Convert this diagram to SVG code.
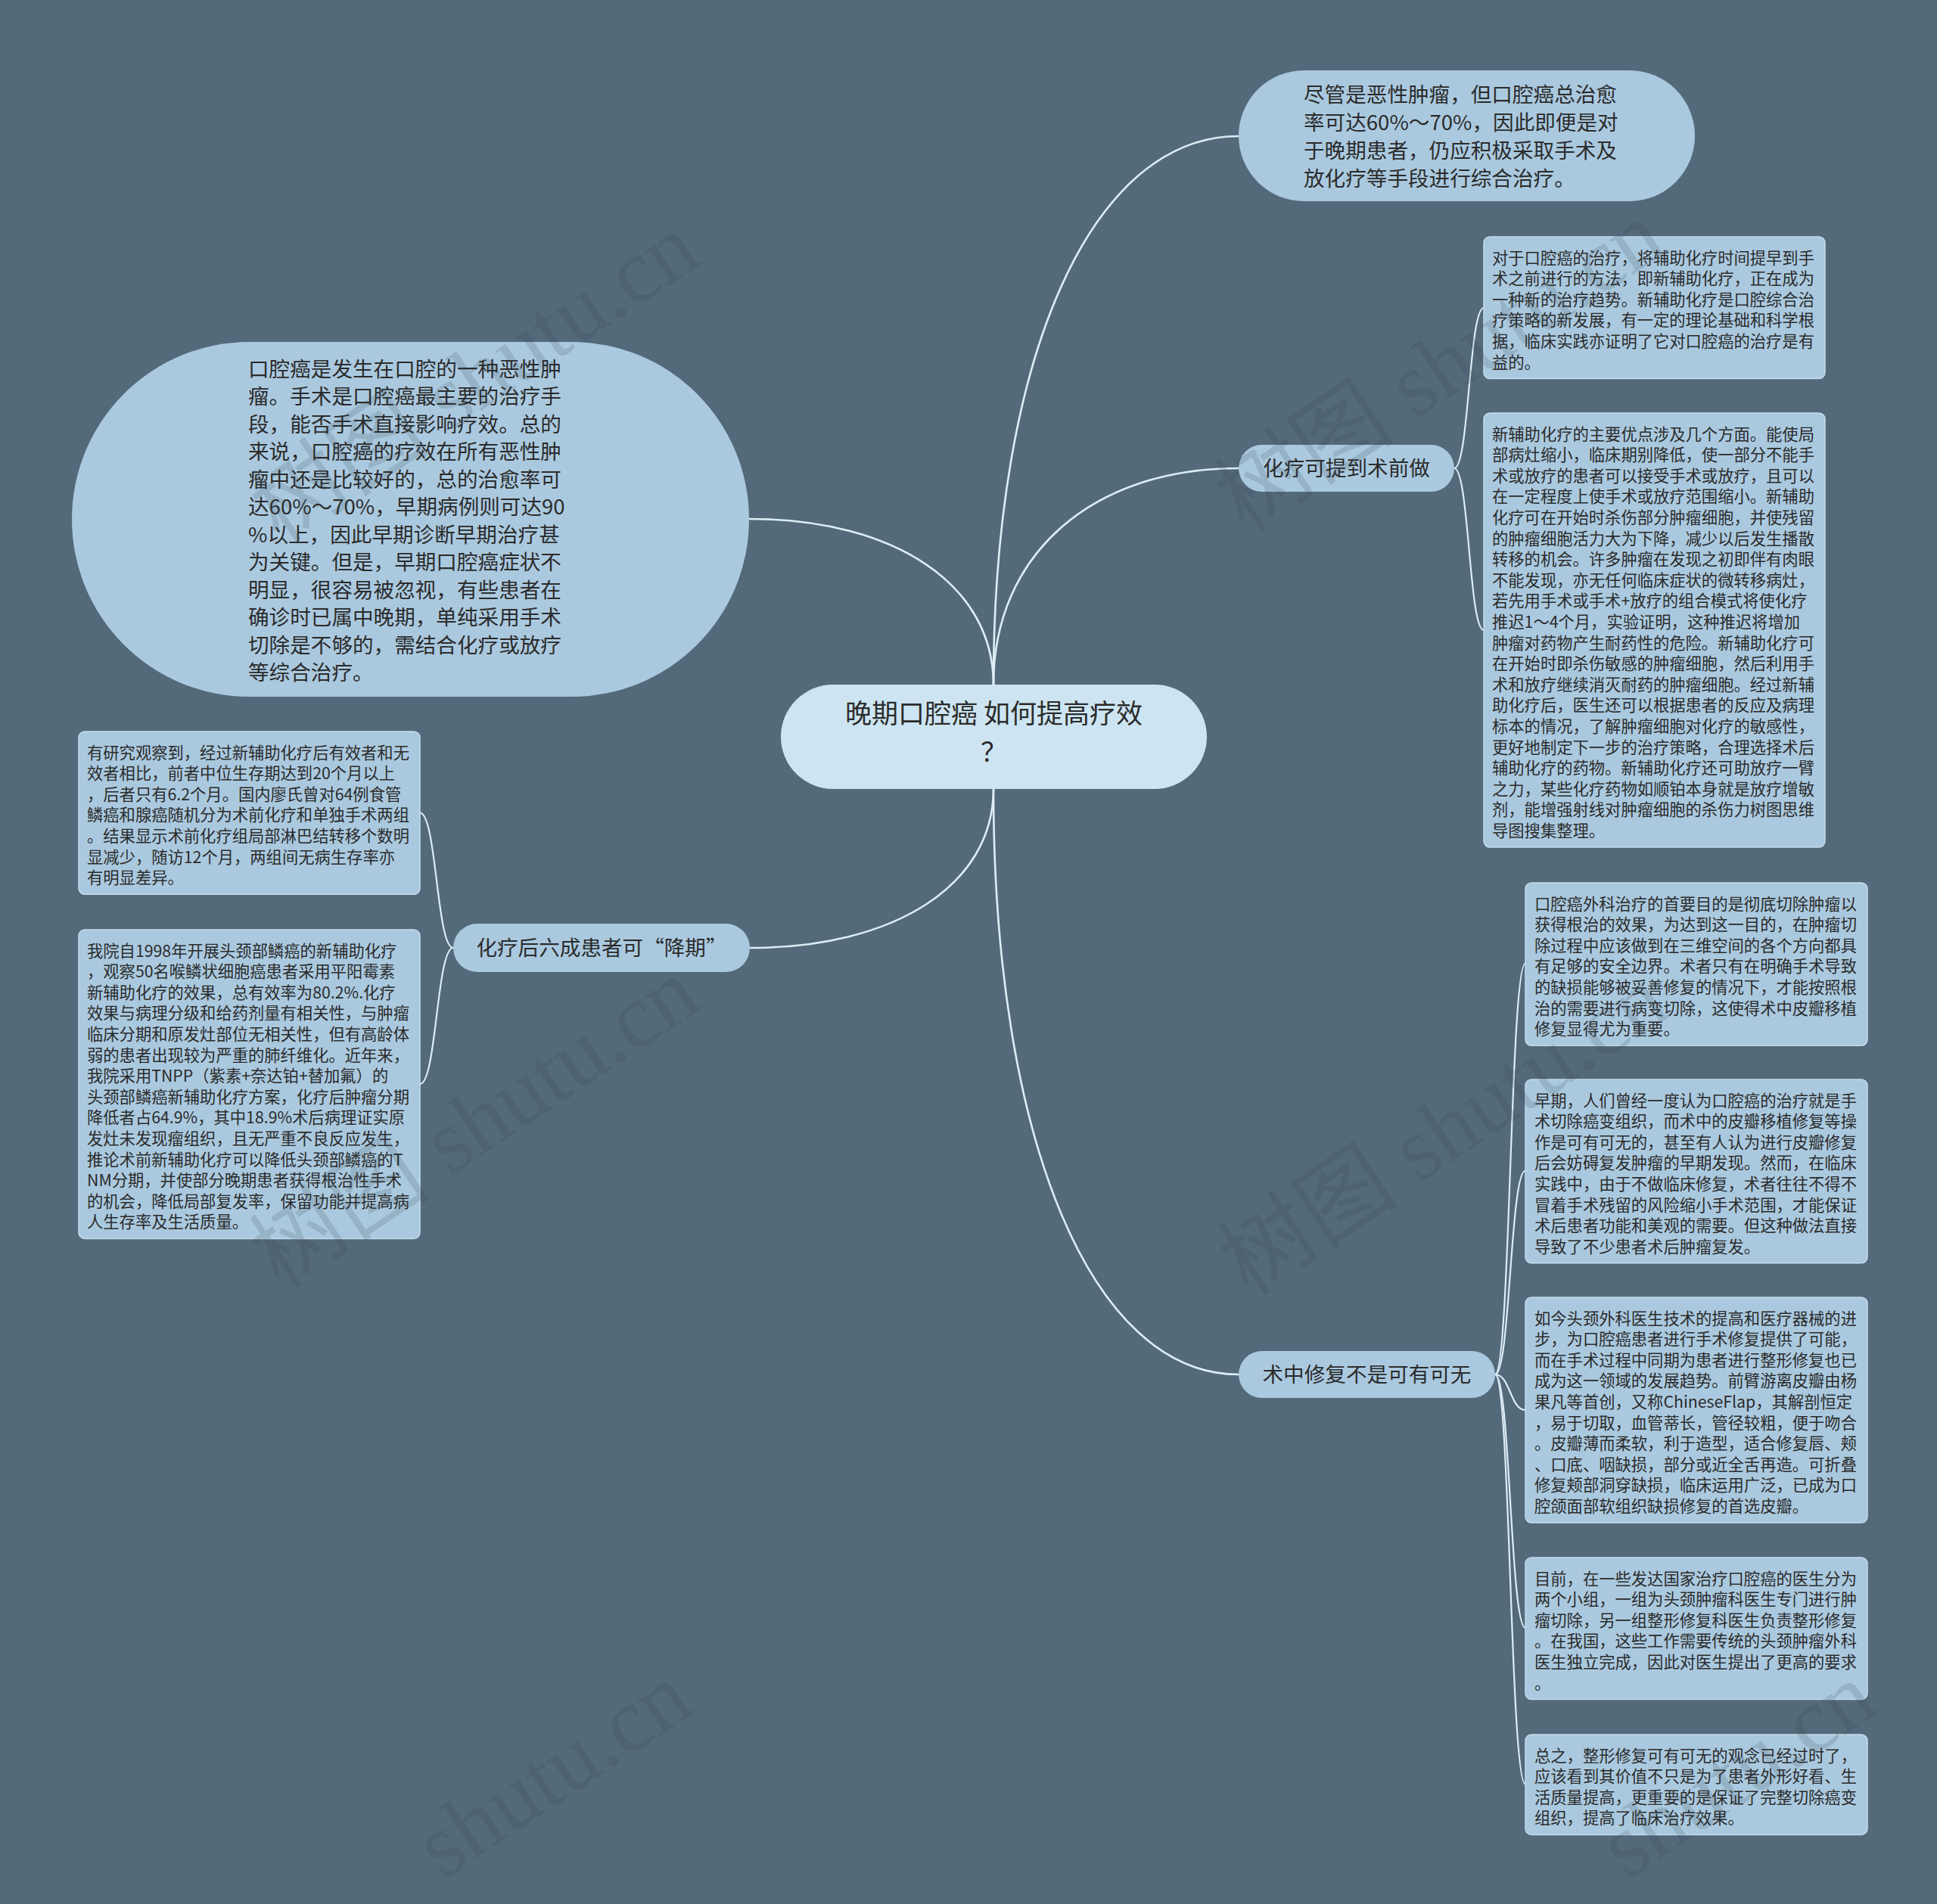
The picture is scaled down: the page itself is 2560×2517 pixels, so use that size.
<svg xmlns="http://www.w3.org/2000/svg" width="2560" height="2517" viewBox="0 0 2560 2517">
<style>
.conn{fill:none;stroke:#dcedf6;stroke-width:2.6;stroke-linecap:round}
.sub{stroke-width:2.2}
.root{fill:#cde5f2}
.main{fill:#aac9df}
.box{fill:#aac9df;stroke:#c4dbea;stroke-width:1.5}
text{fill:#2b2b2b;font-family:"Noto Sans CJK SC","Noto Sans",sans-serif}
.t36{font-size:35px}
.t28{font-size:27.6px}
.t21{font-size:21.3px}
.wm{font-family:"Liberation Serif","Noto Sans CJK SC",serif;font-size:120px;fill:#2f3f4a;opacity:0.16}
</style>
<rect x="0" y="0" width="2560" height="2517" fill="#536a7b"/>
<g id="connectors">
<path class="conn" d="M1313,905 C1313,470 1443,180 1637,180"/>
<path class="conn" d="M1313,905 C1313,733 1443,619 1637,619"/>
<path class="conn" d="M1313,905 C1313,774 1184,686 990,686"/>
<path class="conn" d="M1313,1043 C1313,1169 1184,1253 991,1253"/>
<path class="conn" d="M1313,1043 C1313,1507 1443,1817 1637,1817"/>
<path class="conn sub" d="M1922,619 C1941.5,619 1941.5,407 1961,407"/>
<path class="conn sub" d="M1922,619 C1941.5,619 1941.5,833 1961,833"/>
<path class="conn sub" d="M599,1253 C577,1253 577,1074.5 555,1074.5"/>
<path class="conn sub" d="M599,1253 C577,1253 577,1433 555,1433"/>
<path class="conn sub" d="M1976,1817 C1996,1817 1996,1273.5 2016,1273.5"/>
<path class="conn sub" d="M1976,1817 C1996,1817 1996,1547.5 2016,1547.5"/>
<path class="conn sub" d="M1976,1817 C1996,1817 1996,1864 2016,1864"/>
<path class="conn sub" d="M1976,1817 C1996,1817 1996,2152 2016,2152"/>
<path class="conn sub" d="M1976,1817 C1996,1817 1996,2358.5 2016,2358.5"/>
</g>
<g id="root">
<rect class="root" x="1032" y="905" width="563" height="138" rx="69"/>
<text class="t36" text-anchor="middle"><tspan x="1313.5" y="956">晚期口腔癌 如何提高疗效</tspan><tspan x="1313.5" y="1007">？</tspan></text>
</g>
<g id="n-top">
<rect class="main" x="1637" y="93" width="603" height="173" rx="86.5"/>
<text class="t28"><tspan x="1723" y="134.5">尽管是恶性肿瘤，但口腔癌总治愈</tspan><tspan x="1723" y="171.5">率可达60%～70%，因此即便是对</tspan><tspan x="1723" y="208.5">于晚期患者，仍应积极采取手术及</tspan><tspan x="1723" y="245.5">放化疗等手段进行综合治疗。</tspan></text>
</g>
<g id="n-left">
<rect class="main" x="95" y="452" width="895" height="469" rx="234.5"/>
<text class="t28"><tspan x="328" y="497.5">口腔癌是发生在口腔的一种恶性肿</tspan><tspan x="328" y="534">瘤。手术是口腔癌最主要的治疗手</tspan><tspan x="328" y="570.5">段，能否手术直接影响疗效。总的</tspan><tspan x="328" y="607">来说，口腔癌的疗效在所有恶性肿</tspan><tspan x="328" y="643.5">瘤中还是比较好的，总的治愈率可</tspan><tspan x="328" y="680">达60%～70%，早期病例则可达90</tspan><tspan x="328" y="716.5">%以上，因此早期诊断早期治疗甚</tspan><tspan x="328" y="753">为关键。但是，早期口腔癌症状不</tspan><tspan x="328" y="789.5">明显，很容易被忽视，有些患者在</tspan><tspan x="328" y="826">确诊时已属中晚期，单纯采用手术</tspan><tspan x="328" y="862.5">切除是不够的，需结合化疗或放疗</tspan><tspan x="328" y="899">等综合治疗。</tspan></text>
</g>
<g id="b1">
<rect class="main" x="1637" y="588" width="285" height="62" rx="31"/>
<text class="t28" x="1779.5" y="629" text-anchor="middle">化疗可提到术前做</text>
</g>
<g id="b2">
<rect class="main" x="599" y="1221" width="392" height="64" rx="32"/>
<text class="t28" x="795" y="1263" text-anchor="middle">化疗后六成患者可“降期”</text>
</g>
<g id="b3">
<rect class="main" x="1637" y="1786" width="339" height="62" rx="31"/>
<text class="t28" x="1806.5" y="1827" text-anchor="middle">术中修复不是可有可无</text>
</g>
<g id="box1">
<rect class="box" x="1961" y="313" width="451" height="187.6" rx="8"/>
<text class="t21"><tspan x="1972" y="348.5">对于口腔癌的治疗，将辅助化疗时间提早到手</tspan><tspan x="1972" y="376.1">术之前进行的方法，即新辅助化疗，正在成为</tspan><tspan x="1972" y="403.7">一种新的治疗趋势。新辅助化疗是口腔综合治</tspan><tspan x="1972" y="431.3">疗策略的新发展，有一定的理论基础和科学根</tspan><tspan x="1972" y="458.9">据，临床实践亦证明了它对口腔癌的治疗是有</tspan><tspan x="1972" y="486.5">益的。</tspan></text>
</g>
<g id="box2">
<rect class="box" x="1961" y="546" width="451" height="574" rx="8"/>
<text class="t21"><tspan x="1972" y="581.5">新辅助化疗的主要优点涉及几个方面。能使局</tspan><tspan x="1972" y="609.1">部病灶缩小，临床期别降低，使一部分不能手</tspan><tspan x="1972" y="636.7">术或放疗的患者可以接受手术或放疗，且可以</tspan><tspan x="1972" y="664.3">在一定程度上使手术或放疗范围缩小。新辅助</tspan><tspan x="1972" y="691.9">化疗可在开始时杀伤部分肿瘤细胞，并使残留</tspan><tspan x="1972" y="719.5">的肿瘤细胞活力大为下降，减少以后发生播散</tspan><tspan x="1972" y="747.1">转移的机会。许多肿瘤在发现之初即伴有肉眼</tspan><tspan x="1972" y="774.7">不能发现，亦无任何临床症状的微转移病灶，</tspan><tspan x="1972" y="802.3">若先用手术或手术+放疗的组合模式将使化疗</tspan><tspan x="1972" y="829.9">推迟1～4个月，实验证明，这种推迟将增加</tspan><tspan x="1972" y="857.5">肿瘤对药物产生耐药性的危险。新辅助化疗可</tspan><tspan x="1972" y="885.1">在开始时即杀伤敏感的肿瘤细胞，然后利用手</tspan><tspan x="1972" y="912.7">术和放疗继续消灭耐药的肿瘤细胞。经过新辅</tspan><tspan x="1972" y="940.3">助化疗后，医生还可以根据患者的反应及病理</tspan><tspan x="1972" y="967.9">标本的情况，了解肿瘤细胞对化疗的敏感性，</tspan><tspan x="1972" y="995.5">更好地制定下一步的治疗策略，合理选择术后</tspan><tspan x="1972" y="1023.1">辅助化疗的药物。新辅助化疗还可助放疗一臂</tspan><tspan x="1972" y="1050.7">之力，某些化疗药物如顺铂本身就是放疗增敏</tspan><tspan x="1972" y="1078.3">剂，能增强射线对肿瘤细胞的杀伤力树图思维</tspan><tspan x="1972" y="1105.9">导图搜集整理。</tspan></text>
</g>
<g id="box3">
<rect class="box" x="104" y="967" width="451" height="215.2" rx="8"/>
<text class="t21"><tspan x="115" y="1002.5">有研究观察到，经过新辅助化疗后有效者和无</tspan><tspan x="115" y="1030.1">效者相比，前者中位生存期达到20个月以上</tspan><tspan x="115" y="1057.7">，后者只有6.2个月。国内廖氏曾对64例食管</tspan><tspan x="115" y="1085.3">鳞癌和腺癌随机分为术前化疗和单独手术两组</tspan><tspan x="115" y="1112.9">。结果显示术前化疗组局部淋巴结转移个数明</tspan><tspan x="115" y="1140.5">显减少，随访12个月，两组间无病生存率亦</tspan><tspan x="115" y="1168.1">有明显差异。</tspan></text>
</g>
<g id="box4">
<rect class="box" x="104" y="1229" width="451" height="408.4" rx="8"/>
<text class="t21"><tspan x="115" y="1264.5">我院自1998年开展头颈部鳞癌的新辅助化疗</tspan><tspan x="115" y="1292.1">，观察50名喉鳞状细胞癌患者采用平阳霉素</tspan><tspan x="115" y="1319.7">新辅助化疗的效果，总有效率为80.2%.化疗</tspan><tspan x="115" y="1347.3">效果与病理分级和给药剂量有相关性，与肿瘤</tspan><tspan x="115" y="1374.9">临床分期和原发灶部位无相关性，但有高龄体</tspan><tspan x="115" y="1402.5">弱的患者出现较为严重的肺纤维化。近年来，</tspan><tspan x="115" y="1430.1">我院采用TNPP（紫素+奈达铂+替加氟）的</tspan><tspan x="115" y="1457.7">头颈部鳞癌新辅助化疗方案，化疗后肿瘤分期</tspan><tspan x="115" y="1485.3">降低者占64.9%，其中18.9%术后病理证实原</tspan><tspan x="115" y="1512.9">发灶未发现瘤组织，且无严重不良反应发生，</tspan><tspan x="115" y="1540.5">推论术前新辅助化疗可以降低头颈部鳞癌的T</tspan><tspan x="115" y="1568.1">NM分期，并使部分晚期患者获得根治性手术</tspan><tspan x="115" y="1595.7">的机会，降低局部复发率，保留功能并提高病</tspan><tspan x="115" y="1623.3">人生存率及生活质量。</tspan></text>
</g>
<g id="box5">
<rect class="box" x="2016" y="1167" width="452" height="215.2" rx="8"/>
<text class="t21"><tspan x="2028" y="1202.5">口腔癌外科治疗的首要目的是彻底切除肿瘤以</tspan><tspan x="2028" y="1230.1">获得根治的效果，为达到这一目的，在肿瘤切</tspan><tspan x="2028" y="1257.7">除过程中应该做到在三维空间的各个方向都具</tspan><tspan x="2028" y="1285.3">有足够的安全边界。术者只有在明确手术导致</tspan><tspan x="2028" y="1312.9">的缺损能够被妥善修复的情况下，才能按照根</tspan><tspan x="2028" y="1340.5">治的需要进行病变切除，这使得术中皮瓣移植</tspan><tspan x="2028" y="1368.1">修复显得尤为重要。</tspan></text>
</g>
<g id="box6">
<rect class="box" x="2016" y="1427" width="452" height="242.8" rx="8"/>
<text class="t21"><tspan x="2028" y="1462.5">早期，人们曾经一度认为口腔癌的治疗就是手</tspan><tspan x="2028" y="1490.1">术切除癌变组织，而术中的皮瓣移植修复等操</tspan><tspan x="2028" y="1517.7">作是可有可无的，甚至有人认为进行皮瓣修复</tspan><tspan x="2028" y="1545.3">后会妨碍复发肿瘤的早期发现。然而，在临床</tspan><tspan x="2028" y="1572.9">实践中，由于不做临床修复，术者往往不得不</tspan><tspan x="2028" y="1600.5">冒着手术残留的风险缩小手术范围，才能保证</tspan><tspan x="2028" y="1628.1">术后患者功能和美观的需要。但这种做法直接</tspan><tspan x="2028" y="1655.7">导致了不少患者术后肿瘤复发。</tspan></text>
</g>
<g id="box7">
<rect class="box" x="2016" y="1715" width="452" height="298" rx="8"/>
<text class="t21"><tspan x="2028" y="1750.5">如今头颈外科医生技术的提高和医疗器械的进</tspan><tspan x="2028" y="1778.1">步，为口腔癌患者进行手术修复提供了可能，</tspan><tspan x="2028" y="1805.7">而在手术过程中同期为患者进行整形修复也已</tspan><tspan x="2028" y="1833.3">成为这一领域的发展趋势。前臂游离皮瓣由杨</tspan><tspan x="2028" y="1860.9">果凡等首创，又称ChineseFlap，其解剖恒定</tspan><tspan x="2028" y="1888.5">，易于切取，血管蒂长，管径较粗，便于吻合</tspan><tspan x="2028" y="1916.1">。皮瓣薄而柔软，利于造型，适合修复唇、颊</tspan><tspan x="2028" y="1943.7">、口底、咽缺损，部分或近全舌再造。可折叠</tspan><tspan x="2028" y="1971.3">修复颊部洞穿缺损，临床运用广泛，已成为口</tspan><tspan x="2028" y="1998.9">腔颌面部软组织缺损修复的首选皮瓣。</tspan></text>
</g>
<g id="box8">
<rect class="box" x="2016" y="2059" width="452" height="187.6" rx="8"/>
<text class="t21"><tspan x="2028" y="2094.5">目前，在一些发达国家治疗口腔癌的医生分为</tspan><tspan x="2028" y="2122.1">两个小组，一组为头颈肿瘤科医生专门进行肿</tspan><tspan x="2028" y="2149.7">瘤切除，另一组整形修复科医生负责整形修复</tspan><tspan x="2028" y="2177.3">。在我国，这些工作需要传统的头颈肿瘤外科</tspan><tspan x="2028" y="2204.9">医生独立完成，因此对医生提出了更高的要求</tspan><tspan x="2028" y="2232.5">。</tspan></text>
</g>
<g id="box9">
<rect class="box" x="2016" y="2293" width="452" height="132.4" rx="8"/>
<text class="t21"><tspan x="2028" y="2328.5">总之，整形修复可有可无的观念已经过时了，</tspan><tspan x="2028" y="2356.1">应该看到其价值不只是为了患者外形好看、生</tspan><tspan x="2028" y="2383.7">活质量提高，更重要的是保证了完整切除癌变</tspan><tspan x="2028" y="2411.3">组织，提高了临床治疗效果。</tspan></text>
</g>
<g id="watermarks">
<text class="wm" transform="translate(370,720) rotate(-33.7)">树图 shutu.cn</text>
<text class="wm" transform="translate(370,1705) rotate(-33.7)">树图 shutu.cn</text>
<text class="wm" transform="translate(1645,705) rotate(-33.7)">树图 shutu.cn</text>
<text class="wm" transform="translate(1650,1715) rotate(-33.7)">树图 shutu.cn</text>
<text class="wm" transform="translate(585,2486) rotate(-33.7)">shutu.cn</text>
<text class="wm" transform="translate(2150,2486) rotate(-33.7)">shutu.cn</text>
</g>
</svg>
